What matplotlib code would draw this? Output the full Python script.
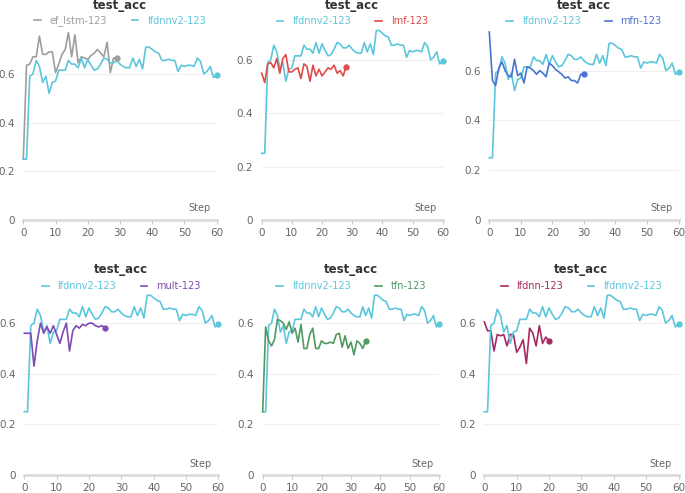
import matplotlib
matplotlib.use('Agg')
import matplotlib.pyplot as plt
import numpy as np

# shared reference run
lfdnnv2 = [0.25, 0.25, 0.59, 0.60, 0.655, 0.63, 0.565, 0.59, 0.52, 0.565,
           0.57, 0.615, 0.615, 0.615, 0.655, 0.64, 0.64, 0.625, 0.665, 0.625,
           0.66, 0.635, 0.615, 0.62, 0.64, 0.665, 0.66, 0.645, 0.645, 0.655,
           0.64, 0.63, 0.625, 0.625, 0.665, 0.63, 0.66, 0.62, 0.71, 0.71,
           0.70, 0.69, 0.685, 0.655, 0.655, 0.66, 0.655, 0.655, 0.61, 0.635,
           0.63, 0.635, 0.635, 0.63, 0.665, 0.65, 0.60, 0.61, 0.63, 0.585, 0.595]

ef_lstm = [0.25, 0.635, 0.64, 0.67, 0.67, 0.755, 0.68, 0.68, 0.69, 0.69,
           0.605, 0.64, 0.68, 0.70, 0.77, 0.67, 0.76, 0.645, 0.67, 0.665,
           0.66, 0.675, 0.685, 0.70, 0.685, 0.67, 0.73, 0.605, 0.665, 0.665]

lmf = [0.55, 0.515, 0.585, 0.59, 0.57, 0.605, 0.55, 0.605, 0.62, 0.555,
       0.555, 0.565, 0.57, 0.53, 0.585, 0.575, 0.52, 0.58, 0.54, 0.565,
       0.54, 0.555, 0.57, 0.565, 0.58, 0.55, 0.56, 0.54, 0.575]

mfn = [0.755, 0.56, 0.54, 0.61, 0.635, 0.60, 0.58, 0.575, 0.645, 0.58,
       0.59, 0.55, 0.615, 0.61, 0.60, 0.585, 0.60, 0.59, 0.575, 0.63,
       0.62, 0.605, 0.595, 0.585, 0.57, 0.575, 0.56, 0.56, 0.55, 0.585, 0.585]

mult = [0.56, 0.56, 0.56, 0.43, 0.53, 0.60, 0.56, 0.585, 0.56, 0.59,
        0.555, 0.52, 0.565, 0.60, 0.49, 0.57, 0.59, 0.58, 0.595, 0.59,
        0.60, 0.60, 0.59, 0.585, 0.59, 0.58]

tfn = [0.25, 0.585, 0.53, 0.51, 0.535, 0.615, 0.61, 0.60, 0.575, 0.605,
       0.56, 0.58, 0.525, 0.595, 0.50, 0.50, 0.555, 0.58, 0.50, 0.50,
       0.53, 0.52, 0.52, 0.525, 0.52, 0.555, 0.56, 0.505, 0.55, 0.50,
       0.525, 0.475, 0.53, 0.52, 0.50, 0.53]

lfdnn = [0.605, 0.57, 0.57, 0.49, 0.555, 0.55, 0.555, 0.51, 0.555, 0.555,
         0.485, 0.505, 0.535, 0.44, 0.58, 0.56, 0.51, 0.59, 0.52, 0.545, 0.53]

C_V2 = '#5cc6dc'
# (name, values, colour, listed first in legend?)
panels = [
    ('ef_lstm-123', ef_lstm, '#9e9e9e', True),
    ('lmf-123', lmf, '#e04a4a', False),
    ('mfn-123', mfn, '#4b73d1', False),
    ('mult-123', mult, '#7d4bb3', False),
    ('tfn-123', tfn, '#4f9a60', False),
    ('lfdnn-123', lfdnn, '#a62a62', True),
]

W, H = 685, 493
# pixel boxes: x of step 0, x of step 60, y of value 0, y of top, ymax
boxes = [
    (23.3, 216.7, 220, 30, 0.78),
    (261.7, 442.7, 220, 30, 0.712),
    (489.3, 678.5, 220, 30, 0.763),
    (24.3, 218.3, 475, 291, 0.727),
    (262.7, 439.3, 475, 291, 0.727),
    (484.3, 678.5, 475, 291, 0.727),
]
title_y = [5, 5, 5, 269, 269, 269]
legend_y = [21, 21, 21, 286, 286, 286]

fig = plt.figure(figsize=(W / 100, H / 100), dpi=100)
fig.patch.set_facecolor('white')

for i, ((name, vals, col, first), (x0, x1, yb, yt, ymax)) in enumerate(zip(panels, boxes)):
    ax = fig.add_axes([x0 / W, 1 - yb / H, (x1 - x0) / W, (yb - yt) / H])
    ax.set_xlim(0, 60)
    ax.set_ylim(0, ymax)
    for s in ax.spines.values():
        s.set_visible(False)
    ax.axhline(0, color='#dcdcdc', lw=2, zorder=1, clip_on=False)
    for g in (0.2, 0.4, 0.6):
        ax.axhline(g, color='#efefef', lw=0.8, zorder=0)

    series = [(name, vals, col), ('lfdnnv2-123', lfdnnv2, C_V2)]
    if not first:
        series = series[::-1]
    handles = []
    for lab, v, c in series:
        steps = np.arange(len(v))
        ln, = ax.plot(steps, v, color=c, lw=1.2, label=lab, zorder=3, clip_on=False)
        ax.plot(steps[-1], v[-1], 'o', color=c, ms=3.5, zorder=4, clip_on=False)
        handles.append(ln)

    ax.set_xticks(range(0, 61, 10))
    ax.set_yticks([0, 0.2, 0.4, 0.6])
    ax.set_yticklabels(['0', '0.2', '0.4', '0.6'])
    ax.tick_params(axis='y', length=0, labelsize=7.5, labelcolor='#666666', pad=6)
    ax.tick_params(axis='x', length=3, color='#cccccc', labelsize=7.5,
                   labelcolor='#666666', pad=3)
    ax.text(58, 0.025 * ymax / 0.73, 'Step', ha='right', va='bottom',
            fontsize=7, color='#666666')

    cx = (x0 + x1) / 2 / W
    fig.text(cx, 1 - title_y[i] / H, 'test_acc', ha='center', va='center',
             fontsize=8.5, fontweight='bold', color='#333333')
    ax.legend(handles=handles, loc='center',
              bbox_to_anchor=(cx, 1 - legend_y[i] / H),
              bbox_transform=fig.transFigure, ncol=2, frameon=False,
              fontsize=7, handlelength=0.7, handletextpad=0.9,
              columnspacing=2.5, labelcolor='linecolor', borderaxespad=0)

fig.savefig('out.png', dpi=100)
